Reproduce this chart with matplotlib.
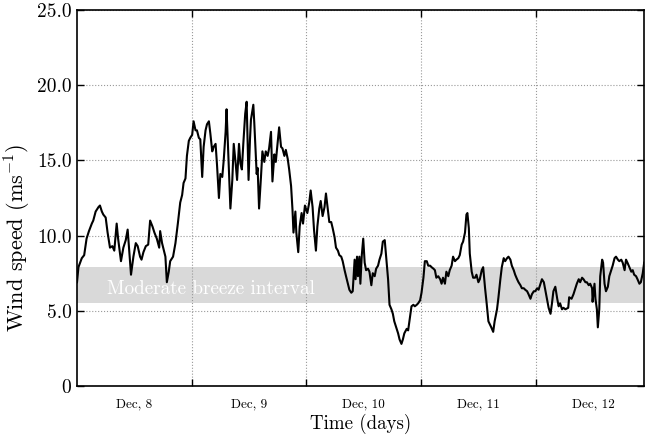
import matplotlib
matplotlib.use("Agg")
from matplotlib import pyplot as plt

# hours since Dec 8 00:00 and wind speed (m/s)
hours = [
    0.0, 0.3, 1.0, 1.5, 2.0, 2.5, 3.1, 3.4, 3.9, 4.5, 4.8, 5.2, 5.5, 6.0, 6.4, 6.9,
    7.4, 7.8, 8.3, 8.6, 9.2, 9.7, 10.2, 10.6, 11.0, 11.3, 11.8, 12.3, 12.7, 13.2,
    13.5, 13.9, 14.4, 14.9, 15.3, 15.8, 16.2, 16.7, 17.2,
    17.4, 17.8, 18.2, 18.5, 18.8, 19.2, 19.5, 20.1, 20.6, 21.1, 21.6, 22.0, 22.3,
    22.7, 23.0, 23.4, 23.7, 24.1, 24.4, 24.8, 25.1, 25.5, 25.8, 26.2, 26.5, 26.9,
    27.2, 27.6, 27.9, 28.3, 28.6, 29.0, 29.3, 29.7, 30.0, 30.4, 30.7, 31.1, 31.3,
    31.6, 31.9, 32.1, 32.5, 32.8, 33.2, 33.5, 33.9, 34.2,
    34.5, 34.8, 35.2, 35.5, 35.9, 36.2, 36.4, 36.9, 37.1, 37.6, 37.8, 38.1, 38.5,
    38.8, 39.2, 39.5, 39.9, 40.2, 40.6, 40.9, 41.3, 41.6, 41.9, 42.3, 42.7, 43.0,
    43.4, 43.7, 44.1, 44.4, 44.8, 45.1, 45.3, 45.7, 45.9, 46.3, 46.6, 47.0, 47.3,
    47.7, 48.2, 48.6, 48.9, 49.3, 49.6, 50.0, 50.3, 50.7, 51.0, 51.4,
    51.8, 52.1, 52.5, 52.8, 53.2, 53.5, 53.9, 54.2, 54.6, 54.9, 55.3, 55.6, 56.0,
    56.3, 56.7, 57.0, 57.4, 57.7, 58.1, 58.3, 58.6, 58.8, 59.1, 59.3, 59.6, 59.9,
    60.2, 60.5, 60.9, 61.2, 61.6, 61.9, 62.3, 62.6, 63.0, 63.3, 63.7, 64.0, 64.4,
    64.7, 65.1, 65.4, 65.8, 66.1, 66.4, 66.8, 67.2, 67.5, 67.9, 68.2, 68.5,
    69.0, 69.3, 69.7, 70.0, 70.4, 70.7, 71.1, 71.4, 71.8, 72.1, 72.5, 72.8, 73.2,
    73.5, 73.9, 74.2, 74.6, 74.9, 75.2, 75.6, 76.0, 76.3, 76.6, 77.0, 77.3, 77.7,
    78.0, 78.4, 78.7, 79.1, 79.4, 79.8, 80.1, 80.5, 80.8, 81.2, 81.5, 81.7, 82.0,
    82.2, 82.6, 82.9, 83.3, 83.6, 84.0, 84.3, 84.7, 85.0, 85.4, 85.7,
    86.1, 86.7, 87.1, 87.4, 87.9, 88.2, 88.6, 88.9, 89.3, 89.6, 90.0, 90.3, 90.7,
    91.0, 91.4, 91.7, 92.1, 92.4, 92.8, 93.1, 93.5, 93.8, 94.2, 94.5, 94.9, 95.2,
    95.6, 95.9, 96.3, 96.6, 97.0, 97.3, 97.7, 98.0, 98.4, 98.7, 99.1, 99.4, 99.7,
    100.1, 100.5, 100.8, 101.1, 101.5, 101.8, 102.2,
    102.8, 103.0, 103.5, 103.9, 104.3, 104.6, 105.0, 105.3, 105.7, 106.0, 106.4,
    106.7, 107.1, 107.4, 107.8, 107.9, 108.3, 108.5, 108.8, 109.0, 109.3, 109.5,
    109.9, 110.1, 110.4, 110.7, 111.1, 111.4, 111.8, 112.1, 112.5, 112.8, 113.2,
    113.5, 113.9, 114.2, 114.6, 114.9, 115.2, 115.6, 116.0, 116.3, 116.6, 117.0,
    117.3, 117.7, 118.0, 118.4, 118.7,
]
wind_speed = [
    6.9, 7.9, 8.5, 8.7, 9.8, 10.3, 10.8, 11.0, 11.6, 11.9, 12.0, 11.6, 11.4, 11.2, 10.2, 9.2,
    9.3, 9.0, 10.8, 9.8, 8.3, 9.2, 9.7, 10.4, 8.7, 7.4, 8.6, 9.5, 9.3, 8.6,
    8.4, 8.9, 9.3, 9.4, 11.0, 10.6, 10.2, 9.8, 9.2,
    10.3, 9.5, 9.0, 8.6, 6.9, 7.6, 8.3, 8.6, 9.5, 10.8, 12.2, 12.7, 13.5,
    13.8, 15.3, 16.3, 16.5, 16.7, 17.6, 17.0, 17.0, 16.5, 16.4, 13.9, 15.9, 17.0,
    17.4, 17.6, 16.8, 15.6, 15.9, 16.1, 14.7, 12.5, 14.1, 13.9, 15.0, 16.9, 18.4,
    15.9, 13.5, 11.8, 13.7, 16.1, 14.8, 13.7, 16.1, 14.8,
    14.4, 16.1, 18.1, 18.9, 13.7, 16.4, 17.7, 18.7, 17.5, 14.1, 14.5, 11.8, 13.9,
    15.6, 14.9, 15.6, 15.3, 15.8, 16.9, 13.6, 15.4, 14.9, 15.9, 17.2, 15.9, 15.8,
    15.3, 15.7, 15.1, 14.4, 13.3, 11.7, 10.2, 11.6, 10.2, 8.9, 10.6, 11.5, 10.8,
    12.0, 11.5, 12.2, 13.0, 11.9, 10.4, 9.0, 10.6, 11.8, 12.3, 11.3,
    11.9, 12.8, 11.7, 10.9, 10.9, 10.5, 9.9, 9.2, 9.0, 8.7, 8.6, 8.3, 7.7,
    7.3, 6.8, 6.4, 6.2, 6.3, 8.4, 7.1, 8.6, 7.3, 8.6, 6.8, 8.7, 9.8,
    8.2, 7.7, 7.8, 7.6, 6.7, 7.5, 7.3, 7.8, 8.0, 8.4, 8.8, 9.6, 9.7,
    8.6, 7.1, 5.4, 5.1, 4.8, 4.3, 3.9, 3.5, 3.1, 2.8, 3.1, 3.5,
    3.8, 3.7, 4.6, 5.3, 5.4, 5.3, 5.4, 5.5, 5.7, 6.2, 7.2, 8.3, 8.3,
    8.0, 8.0, 7.9, 7.8, 7.7, 7.2, 7.3, 7.1, 6.8, 7.2, 6.8, 7.6, 7.3,
    7.7, 8.0, 8.6, 8.3, 8.4, 8.5, 8.7, 9.4, 9.6, 10.2, 11.4, 11.5, 10.5,
    8.8, 7.6, 7.2, 7.2, 7.4, 6.9, 7.1, 7.7, 7.9, 6.5, 5.6,
    4.3, 3.9, 3.6, 4.3, 5.1, 5.9, 7.1, 7.9, 8.5, 8.3, 8.5, 8.6, 8.4,
    8.0, 7.7, 7.4, 7.1, 6.9, 6.7, 6.5, 6.5, 6.4, 6.3, 6.1, 5.8, 6.1,
    6.3, 6.3, 6.5, 6.4, 6.8, 7.1, 6.9, 6.4, 5.7, 5.2, 4.8, 5.5, 6.3,
    6.6, 5.8, 5.3, 5.5, 5.1, 5.2, 5.1,
    5.2, 5.9, 5.8, 6.1, 6.5, 6.8, 7.1, 6.9, 7.2, 7.1, 6.9,
    6.9, 6.7, 6.8, 6.5, 5.6, 6.8, 5.8, 5.1, 3.9, 5.1, 7.3,
    8.4, 8.2, 6.8, 6.3, 6.6, 7.3, 7.7, 8.0, 8.5, 8.6, 8.4,
    8.3, 8.4, 8.2, 7.7, 8.4, 8.2, 7.9, 7.6, 7.7, 7.4, 7.3,
    7.1, 6.8, 6.9, 7.5, 8.2,
]

day_labels = ["Dec, 8", "Dec, 9", "Dec, 10", "Dec, 11", "Dec, 12"]
day_bounds = [24, 48, 72, 96]
y_ticks = [0, 5, 10, 15, 20, 25]
y_tick_labels = ["0", "5.0", "10.0", "15.0", "20.0", "25.0"]
breeze_low, breeze_high = 5.5, 7.9

plt.rcParams["font.family"] = "cmr10"
plt.rcParams["mathtext.fontset"] = "cm"
plt.rcParams["axes.unicode_minus"] = False

fig = plt.figure(figsize=(6.45, 4.37), dpi=100)
ax = fig.add_axes([0.1194, 0.1167, 0.8786, 0.8604])

ax.axhspan(breeze_low, breeze_high, color="#d9d9d9", lw=0, zorder=1)
ax.text(6.3, 6.45, "Moderate breeze interval",
        color="white", fontsize=13.8, va="center", ha="left", zorder=2)

ax.plot(hours, wind_speed, color="black", lw=1.5, zorder=3)

ax.set_xlim(0, 118.6)
ax.set_ylim(0, 25)

ax.set_yticks(y_ticks)
ax.set_yticklabels(y_tick_labels, fontsize=14)
ax.set_xticks(day_bounds)
ax.set_xticklabels([])
ax.set_xticks([12 + 24 * i for i in range(len(day_labels))], minor=True)
ax.set_xticklabels(day_labels, minor=True, fontsize=9.5)
ax.tick_params(axis="x", which="minor", length=0, pad=9)
ax.tick_params(axis="y", which="major", pad=4)
ax.tick_params(which="major", direction="in", length=5, width=1,
               top=True, right=True)

ax.grid(True, which="major", linestyle=":", color="#999999", lw=0.8, zorder=0)

for s in ax.spines.values():
    s.set_linewidth(1.2)

ax.set_xlabel("Time (days)", fontsize=13.6, labelpad=2)
ax.set_ylabel(r"Wind speed (ms$^{-1}$)", fontsize=16)
ax.yaxis.set_label_coords(-0.077, 0.394)

fig.savefig("out.png", dpi=100)
